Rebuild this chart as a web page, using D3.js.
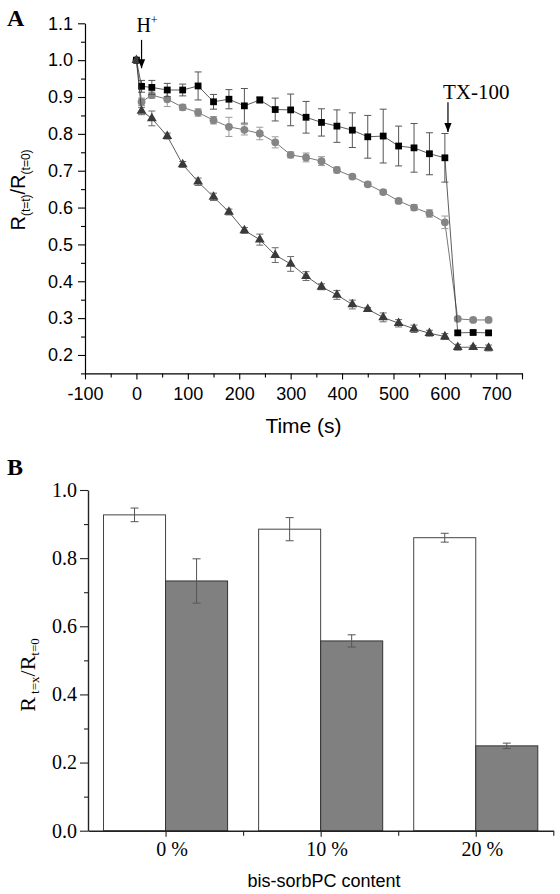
<!DOCTYPE html>
<html>
<head>
<meta charset="utf-8">
<script src="https://cdn.jsdelivr.net/npm/d3@7/dist/d3.min.js"></script>
<style>
  html, body { margin: 0; padding: 0; background: #fff; }
  svg { display: block; }
</style>
</head>
<body>
<svg id="chart" width="560" height="894"></svg>
<script>
// ---------- Panel A data ----------
const times = [0, 10, 30, 60, 90, 120, 150, 180, 210, 240, 270, 300, 330, 360, 390, 420, 450, 480, 510, 540, 570, 600, 625, 655, 685];
const squareVals = [1.0, 0.929, 0.926, 0.919, 0.919, 0.930, 0.887, 0.894, 0.876, 0.892, 0.866, 0.865, 0.845, 0.831, 0.821, 0.810, 0.792, 0.794, 0.767, 0.762, 0.746, 0.735, 0.260, 0.261, 0.260];
const squareErr  = [0, 0.016, 0.019, 0.018, 0.016, 0.038, 0.020, 0.026, 0.047, 0.008, 0.031, 0.043, 0.043, 0.037, 0.044, 0.047, 0.058, 0.073, 0.054, 0.066, 0.057, 0.066, 0.005, 0.005, 0.005];
const circleVals = [1.0, 0.887, 0.905, 0.894, 0.872, 0.858, 0.837, 0.819, 0.811, 0.801, 0.777, 0.743, 0.736, 0.726, 0.702, 0.684, 0.663, 0.642, 0.618, 0.600, 0.584, 0.560, 0.298, 0.295, 0.295];
const circleErr  = [0, 0.010, 0.008, 0.020, 0.008, 0.010, 0.010, 0.026, 0.014, 0.017, 0.015, 0.008, 0.012, 0.012, 0.008, 0.006, 0.006, 0.006, 0.006, 0.008, 0.010, 0.017, 0.005, 0.005, 0.005];
const triangleVals = [1.0, 0.862, 0.842, 0.794, 0.717, 0.670, 0.629, 0.588, 0.538, 0.513, 0.471, 0.447, 0.414, 0.385, 0.363, 0.337, 0.324, 0.302, 0.286, 0.271, 0.259, 0.250, 0.221, 0.221, 0.219];
const triangleErr  = [0, 0.010, 0.020, 0.008, 0.008, 0.010, 0.010, 0.008, 0.008, 0.015, 0.020, 0.020, 0.012, 0.008, 0.012, 0.012, 0.005, 0.012, 0.010, 0.010, 0.008, 0.008, 0.008, 0.005, 0.008];
const xTicksA = [-100, 0, 100, 200, 300, 400, 500, 600, 700];
const yTicksA = [0.2, 0.3, 0.4, 0.5, 0.6, 0.7, 0.8, 0.9, 1.0, 1.1];

// ---------- Panel B data ----------
const categories = ["0 %", "10 %", "20 %"];
const whiteVals = [0.927, 0.885, 0.860];
const whiteErr  = [0.020, 0.034, 0.013];
const grayVals  = [0.733, 0.557, 0.249];
const grayErr   = [0.065, 0.018, 0.008];
const yTicksB = [0.0, 0.2, 0.4, 0.6, 0.8, 1.0];

const SANS = "'Liberation Sans', Arial, sans-serif";
const SERIF = "'Liberation Serif', 'Times New Roman', serif";

const svg = d3.select("#chart");
const defs = svg.append("defs");
defs.append("marker")
  .attr("id", "arrow").attr("viewBox", "0 0 10 10")
  .attr("refX", 10).attr("refY", 5)
  .attr("markerWidth", 9).attr("markerHeight", 9)
  .attr("markerUnits", "userSpaceOnUse")
  .attr("orient", "auto")
  .append("path").attr("d", "M0,1 L10,5 L0,9 Z").attr("fill", "#000");

// ================= PANEL A =================
const xA = d3.scaleLinear().domain([-100, 750]).range([85, 522]);
const yA = d3.scaleLinear().domain([0.15, 1.1]).range([373.4, 23.3]);
const gA = svg.append("g");

// minor ticks
gA.append("g").attr("transform", `translate(0,${yA(0.15)})`)
  .call(d3.axisBottom(xA).tickValues(d3.range(-50, 751, 100)).tickSize(4).tickFormat(""))
  .call(g => g.select(".domain").remove());
gA.append("g").attr("transform", `translate(${xA(-100)},0)`)
  .call(d3.axisLeft(yA).tickValues(d3.range(0.15, 1.1, 0.1).map(v => +v.toFixed(2))).tickSize(4).tickFormat(""))
  .call(g => g.select(".domain").remove());

const xAxisA = gA.append("g").attr("transform", `translate(0,${yA(0.15)})`)
  .call(d3.axisBottom(xA).tickValues(xTicksA.concat([750])).tickSize(6).tickPadding(8)
    .tickFormat(d => d === 750 ? "" : d3.format("d")(d)).tickSizeOuter(0));
const yAxisA = gA.append("g").attr("transform", `translate(${xA(-100)},0)`)
  .call(d3.axisLeft(yA).tickValues(yTicksA).tickSize(7).tickPadding(5)
    .tickFormat(d3.format(".1f")).tickSizeOuter(0));
[xAxisA, yAxisA].forEach(ax => {
  ax.selectAll("text").attr("font-family", SANS).attr("font-size", 18).attr("fill", "#000");
  ax.selectAll("line, path").attr("stroke", "#000").attr("stroke-width", 1.2);
});
gA.selectAll(".tick line").attr("stroke", "#000").attr("stroke-width", 1.1);
xAxisA.selectAll("text").text(d => d === 750 ? "" : (d < 0 ? "-" + Math.abs(d) : d));

// series
const seriesA = [
  { vals: circleVals, err: circleErr, sym: d3.symbolCircle, size: 48, fill: "#858585", errCol: "#9a9a9a", line: "#555" },
  { vals: squareVals, err: squareErr, sym: d3.symbolSquare, size: 46, fill: "#000", errCol: "#555", line: "#333" },
  { vals: triangleVals, err: triangleErr, sym: d3.symbolTriangle, size: 42, fill: "#3a3a3a", errCol: "#6a6a6a", line: "#333" }
];
const lineGen = d3.line().x(d => xA(d.t)).y(d => yA(d.v));
seriesA.forEach(s => {
  const pts = times.map((t, i) => ({ t, v: s.vals[i], e: s.err[i] }));
  const g = gA.append("g");
  g.append("path").datum(pts).attr("d", lineGen)
    .attr("fill", "none").attr("stroke", s.line).attr("stroke-width", 0.8);
  const eb = g.selectAll(".eb").data(pts.filter(p => p.e > 0)).join("g")
    .attr("stroke", s.errCol).attr("stroke-width", 1);
  eb.append("line").attr("x1", d => xA(d.t)).attr("x2", d => xA(d.t))
    .attr("y1", d => yA(d.v + d.e)).attr("y2", d => yA(d.v - d.e));
  eb.append("line").attr("x1", d => xA(d.t) - 3.5).attr("x2", d => xA(d.t) + 3.5)
    .attr("y1", d => yA(d.v + d.e)).attr("y2", d => yA(d.v + d.e));
  eb.append("line").attr("x1", d => xA(d.t) - 3.5).attr("x2", d => xA(d.t) + 3.5)
    .attr("y1", d => yA(d.v - d.e)).attr("y2", d => yA(d.v - d.e));
  g.selectAll(".m").data(pts).join("path")
    .attr("transform", d => `translate(${xA(d.t)},${yA(d.v)})`)
    .attr("d", d3.symbol().type(s.sym).size(s.size))
    .attr("fill", s.fill);
});

// annotations
gA.append("line").attr("x1", xA(10)).attr("x2", xA(10)).attr("y1", yA(1.055)).attr("y2", yA(0.978))
  .attr("stroke", "#000").attr("stroke-width", 1.2).attr("marker-end", "url(#arrow)");
const hText = gA.append("text").attr("x", xA(0)).attr("y", 32)
  .attr("font-family", SERIF).attr("font-size", 20).attr("fill", "#000");
hText.append("tspan").text("H");
hText.append("tspan").attr("font-size", 12).attr("dy", -8).text("+");

gA.append("line").attr("x1", xA(606)).attr("x2", xA(606)).attr("y1", yA(0.886)).attr("y2", yA(0.805))
  .attr("stroke", "#000").attr("stroke-width", 1.2).attr("marker-end", "url(#arrow)");
gA.append("text").attr("x", 443).attr("y", 99)
  .attr("font-family", SERIF).attr("font-size", 21).attr("fill", "#000").text("TX-100");

// axis titles
gA.append("text").attr("x", (xA.range()[0] + xA.range()[1]) / 2).attr("y", 433)
  .attr("text-anchor", "middle").attr("font-family", SANS).attr("font-size", 21).text("Time (s)");
const yl = gA.append("text").attr("transform", "translate(25,190) rotate(-90)")
  .attr("text-anchor", "middle").attr("font-family", SANS).attr("font-size", 20);
yl.append("tspan").text("R");
yl.append("tspan").attr("font-size", 12).attr("dy", 5).text("(t=t)");
yl.append("tspan").attr("dy", -5).text("/R");
yl.append("tspan").attr("font-size", 12).attr("dy", 5).text("(t=0)");

svg.append("text").attr("x", 7).attr("y", 26).attr("font-family", SERIF)
  .attr("font-weight", "bold").attr("font-size", 24).text("A");

// ================= PANEL B =================
const xB = d3.scaleLinear().domain([0.5, 3.5]).range([88, 553.3]);
const yB = d3.scaleLinear().domain([0, 1]).range([830.7, 490]);
const gB = svg.append("g");
const barW = 0.4;

const barData = categories.map((c, i) => ({ i: i + 1, w: whiteVals[i], we: whiteErr[i], g: grayVals[i], ge: grayErr[i] }));
// white bars
gB.selectAll(".wb").data(barData).join("rect")
  .attr("x", d => xB(d.i - barW)).attr("width", d => xB(d.i) - xB(d.i - barW))
  .attr("y", d => yB(d.w)).attr("height", d => yB(0) - yB(d.w))
  .attr("fill", "#fff").attr("stroke", "#444").attr("stroke-width", 1);
// gray bars
gB.selectAll(".gb").data(barData).join("rect")
  .attr("x", d => xB(d.i)).attr("width", d => xB(d.i + barW) - xB(d.i))
  .attr("y", d => yB(d.g)).attr("height", d => yB(0) - yB(d.g))
  .attr("fill", "#808080").attr("stroke", "#333").attr("stroke-width", 1);

function errB(cx, v, e) {
  const g = gB.append("g").attr("stroke", "#555").attr("stroke-width", 1);
  g.append("line").attr("x1", cx).attr("x2", cx).attr("y1", yB(v + e)).attr("y2", yB(v - e));
  g.append("line").attr("x1", cx - 4).attr("x2", cx + 4).attr("y1", yB(v + e)).attr("y2", yB(v + e));
  g.append("line").attr("x1", cx - 4).attr("x2", cx + 4).attr("y1", yB(v - e)).attr("y2", yB(v - e));
}
barData.forEach(d => {
  errB(xB(d.i - barW / 2), d.w, d.we);
  errB(xB(d.i + barW / 2), d.g, d.ge);
});

// axes B
gB.append("g").attr("transform", `translate(${xB(0.5)},0)`)
  .call(d3.axisLeft(yB).tickValues([0.1, 0.3, 0.5, 0.7, 0.9]).tickSize(4).tickFormat(""))
  .call(g => g.select(".domain").remove());
gB.append("g").attr("transform", `translate(0,${yB(0)})`)
  .call(d3.axisBottom(xB).tickValues([1.5, 2.5, 3.5]).tickSize(5).tickFormat(""))
  .call(g => g.select(".domain").remove());
const yAxisB = gB.append("g").attr("transform", `translate(${xB(0.5)},0)`)
  .call(d3.axisLeft(yB).tickValues(yTicksB).tickSize(8).tickPadding(3).tickFormat(d3.format(".1f")).tickSizeOuter(0));
const xAxisB = gB.append("g").attr("transform", `translate(0,${yB(0)})`)
  .call(d3.axisBottom(xB).tickValues([1, 2, 3]).tickSize(6).tickPadding(5)
    .tickFormat(d => categories[d - 1]).tickSizeOuter(0));
[xAxisB, yAxisB].forEach(ax => {
  ax.selectAll("text").attr("font-family", SERIF).attr("font-size", 20).attr("fill", "#000");
  ax.selectAll("path").attr("stroke", "#222").attr("stroke-width", 1.4);
});
gB.selectAll(".tick line").attr("stroke", "#222").attr("stroke-width", 1.1);
xAxisB.selectAll("text").attr("dx", 6);

gB.append("text").attr("x", 324).attr("y", 887).attr("text-anchor", "middle")
  .attr("font-family", SANS).attr("font-size", 18).text("bis-sorbPC content");
const ylB = gB.append("text").attr("transform", "translate(35,675) rotate(-90)")
  .attr("text-anchor", "middle").attr("font-family", SERIF).attr("font-size", 22);
ylB.append("tspan").text("R");
ylB.append("tspan").attr("font-size", 13).attr("dy", 4).text(" t=x");
ylB.append("tspan").attr("dy", -4).text("/R");
ylB.append("tspan").attr("font-size", 13).attr("dy", 4).text("t=0");

svg.append("text").attr("x", 7).attr("y", 475).attr("font-family", SERIF)
  .attr("font-weight", "bold").attr("font-size", 24).text("B");
</script>
</body>
</html>
